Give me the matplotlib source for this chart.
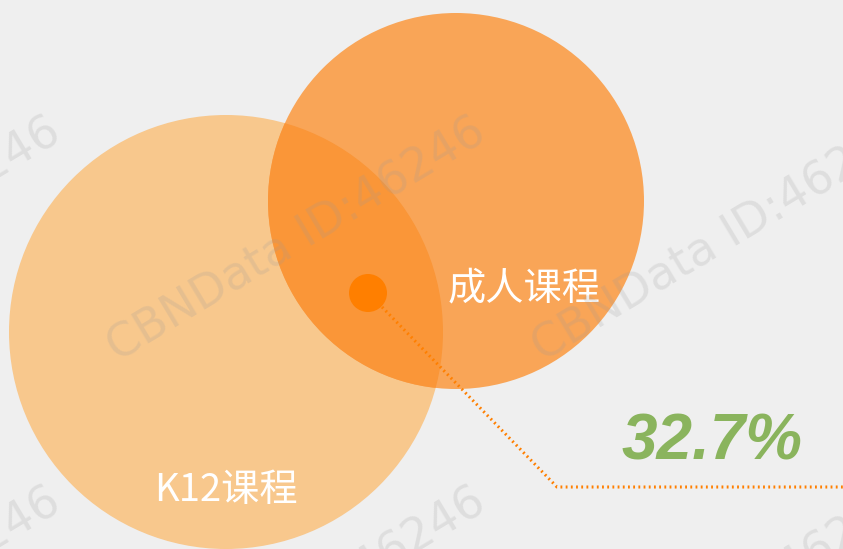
import numpy as np
import matplotlib
matplotlib.use("Agg")
import matplotlib.pyplot as plt
from matplotlib.patches import Circle

plt.rcParams['font.family'] = ['Noto Sans CJK SC', 'DejaVu Sans']

# data
set_labels = ['K12课程', '成人课程']
overlap_share = 32.7
watermark = 'CBNData ID:46246'

# layout (pixel space, y pointing down)
W, H = 843, 549
k12_c, k12_r = (226, 332), 217
adult_c, adult_r = (456, 201), 188
dot_c, dot_r = (368, 293), 19
elbow = (557, 487)

col_k12 = '#F8C88D'
col_adult = '#F9A557'
col_overlap = '#FA9638'
col_dot = '#FF7F00'
col_green = '#8AB45D'

fig = plt.figure(figsize=(W / 100, H / 100), dpi=100)
fig.patch.set_facecolor('#EFEFEF')
ax = fig.add_axes([0, 0, 1, 1])
ax.set_xlim(0, W)
ax.set_ylim(H, 0)
ax.set_aspect('equal')
ax.axis('off')

c1 = Circle(k12_c, k12_r, color=col_k12, lw=0, zorder=1)
c2 = Circle(adult_c, adult_r, color=col_adult, lw=0, zorder=2)
ax.add_patch(c1)
ax.add_patch(c2)
# overlap region: k12 circle clipped to adult circle
ov = Circle(k12_c, k12_r, color=col_overlap, lw=0, zorder=3)
ax.add_patch(ov)
clip = Circle(adult_c, adult_r, transform=ax.transData)
ov.set_clip_path(clip)

ax.add_patch(Circle(dot_c, dot_r, color=col_dot, lw=0, zorder=4))

# leader line
ax.plot([dot_c[0] + 14, elbow[0], W], [dot_c[1] + 14, elbow[1], elbow[1]],
        color=col_dot, lw=2.2, ls=(0, (0.6, 1.1)), zorder=4)

ax.text(226, 491, set_labels[0], color='white', fontsize=27.5,
        fontweight='light', ha='center', va='center', zorder=5)
ax.text(524, 289, set_labels[1], color='white', fontsize=27.5,
        fontweight='light', ha='center', va='center', zorder=5)

ax.text(712, 443, '%.1f%%' % overlap_share, color=col_green, fontsize=46,
        fontweight='bold', fontstyle='italic', family='Liberation Sans',
        ha='center', va='center', zorder=5)

# watermarks
for cx in [-128, 297, 722]:
    for cy in [240, 610]:
        ax.text(cx, cy, watermark, color='#9A9A9A', alpha=0.2, fontsize=33,
                rotation=31, ha='center', va='center', family='DejaVu Sans',
                zorder=6, rotation_mode='anchor')

fig.savefig('out.png', dpi=100, facecolor=fig.get_facecolor())
